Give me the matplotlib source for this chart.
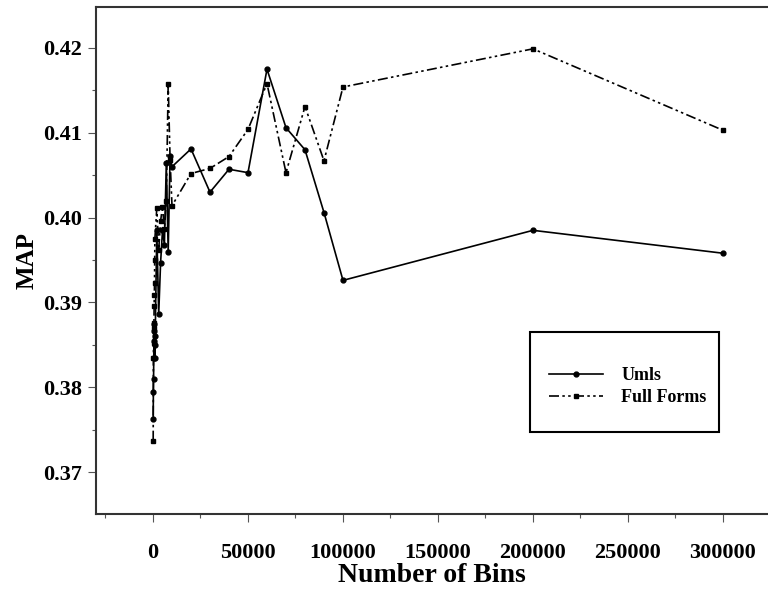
import matplotlib
matplotlib.use("Agg")
from matplotlib import pyplot as plt
from matplotlib.ticker import MultipleLocator
from matplotlib.patches import Rectangle

bins = [100, 200, 300, 400, 500, 600, 700, 800, 900, 1000,
        2000, 3000, 4000, 5000, 6000, 7000, 8000, 9000, 10000,
        20000, 30000, 40000, 50000, 60000, 70000, 80000, 90000, 100000,
        200000, 300000]
umls = [0.3763, 0.3794, 0.3810, 0.3835, 0.3854, 0.3866, 0.3874, 0.3860, 0.3850, 0.3835,
        0.3985, 0.3886, 0.3947, 0.3985, 0.3968, 0.4064, 0.3960, 0.4073, 0.4060,
        0.4081, 0.4030, 0.4057, 0.4053, 0.4175, 0.4106, 0.4080, 0.4006, 0.3926,
        0.3985, 0.3958]
full_forms = [0.3737, 0.3835, 0.3852, 0.3870, 0.3876, 0.3896, 0.3909, 0.3923, 0.3950, 0.3975,
              0.4011, 0.3962, 0.3996, 0.4013, 0.3986, 0.4019, 0.4158, 0.4068, 0.4014,
              0.4052, 0.4058, 0.4072, 0.4104, 0.4158, 0.4053, 0.4131, 0.4067, 0.4154,
              0.4199, 0.4103]

matplotlib.rcParams.update({"font.family": "Liberation Serif", "font.weight": "bold"})

fig = plt.figure(figsize=(7.68, 5.95), dpi=100)
ax = fig.add_axes([0.125, 0.1361, 0.875, 0.8521])

ax.plot(bins, umls, color="black", lw=1.2, marker="o", ms=3.5, label="Umls")
ax.plot(bins, full_forms, color="black", lw=1.2, ls=(0, (6, 2, 1.5, 2, 1.5, 2)),
        marker="s", ms=3.5, label="Full Forms")

ax.set_xlim(-30000, 323700)
ax.set_ylim(0.36505, 0.42483)
ax.xaxis.set_minor_locator(MultipleLocator(25000))
ax.yaxis.set_minor_locator(MultipleLocator(0.005))
ax.set_xticks([0, 50000, 100000, 150000, 200000, 250000, 300000])
ax.set_xticklabels(["0", "50000", "100000", "150000", "200000", "250000", "300000"])
ax.set_yticks([0.37, 0.38, 0.39, 0.40, 0.41, 0.42])
ax.set_yticklabels(["0.37", "0.38", "0.39", "0.40", "0.41", "0.42"])
ax.tick_params(which="major", direction="out", length=6, width=0.8, color="#555555",
               labelsize=16)
ax.tick_params(which="minor", direction="out", length=3, width=0.8, color="#555555")
ax.tick_params(axis="x", which="major", pad=15)
ax.tick_params(axis="y", which="major", pad=4)
for s in ["left", "bottom", "top"]:
    ax.spines[s].set_linewidth(1.5)
    ax.spines[s].set_color("#333333")
ax.spines["right"].set_visible(False)

ax.set_xlabel("Number of Bins", fontsize=20, fontweight="bold", labelpad=0)
ax.set_ylabel("MAP", fontsize=18, fontweight="bold", labelpad=3)

# legend box drawn separately, legend entries without frame
fig.patches.append(Rectangle((530 / 768, 1 - 432 / 595), 189 / 768, 100 / 595,
                             transform=fig.transFigure, fill=False, ec="black", lw=1.5))
ax.legend(loc="upper left", bbox_to_anchor=(540 / 768, 1 - 358 / 595),
          bbox_transform=fig.transFigure, frameon=False, fontsize=13,
          handlelength=3.0, handletextpad=1.0, labelspacing=0.3, borderpad=0)

fig.savefig("out.png", dpi=100)
